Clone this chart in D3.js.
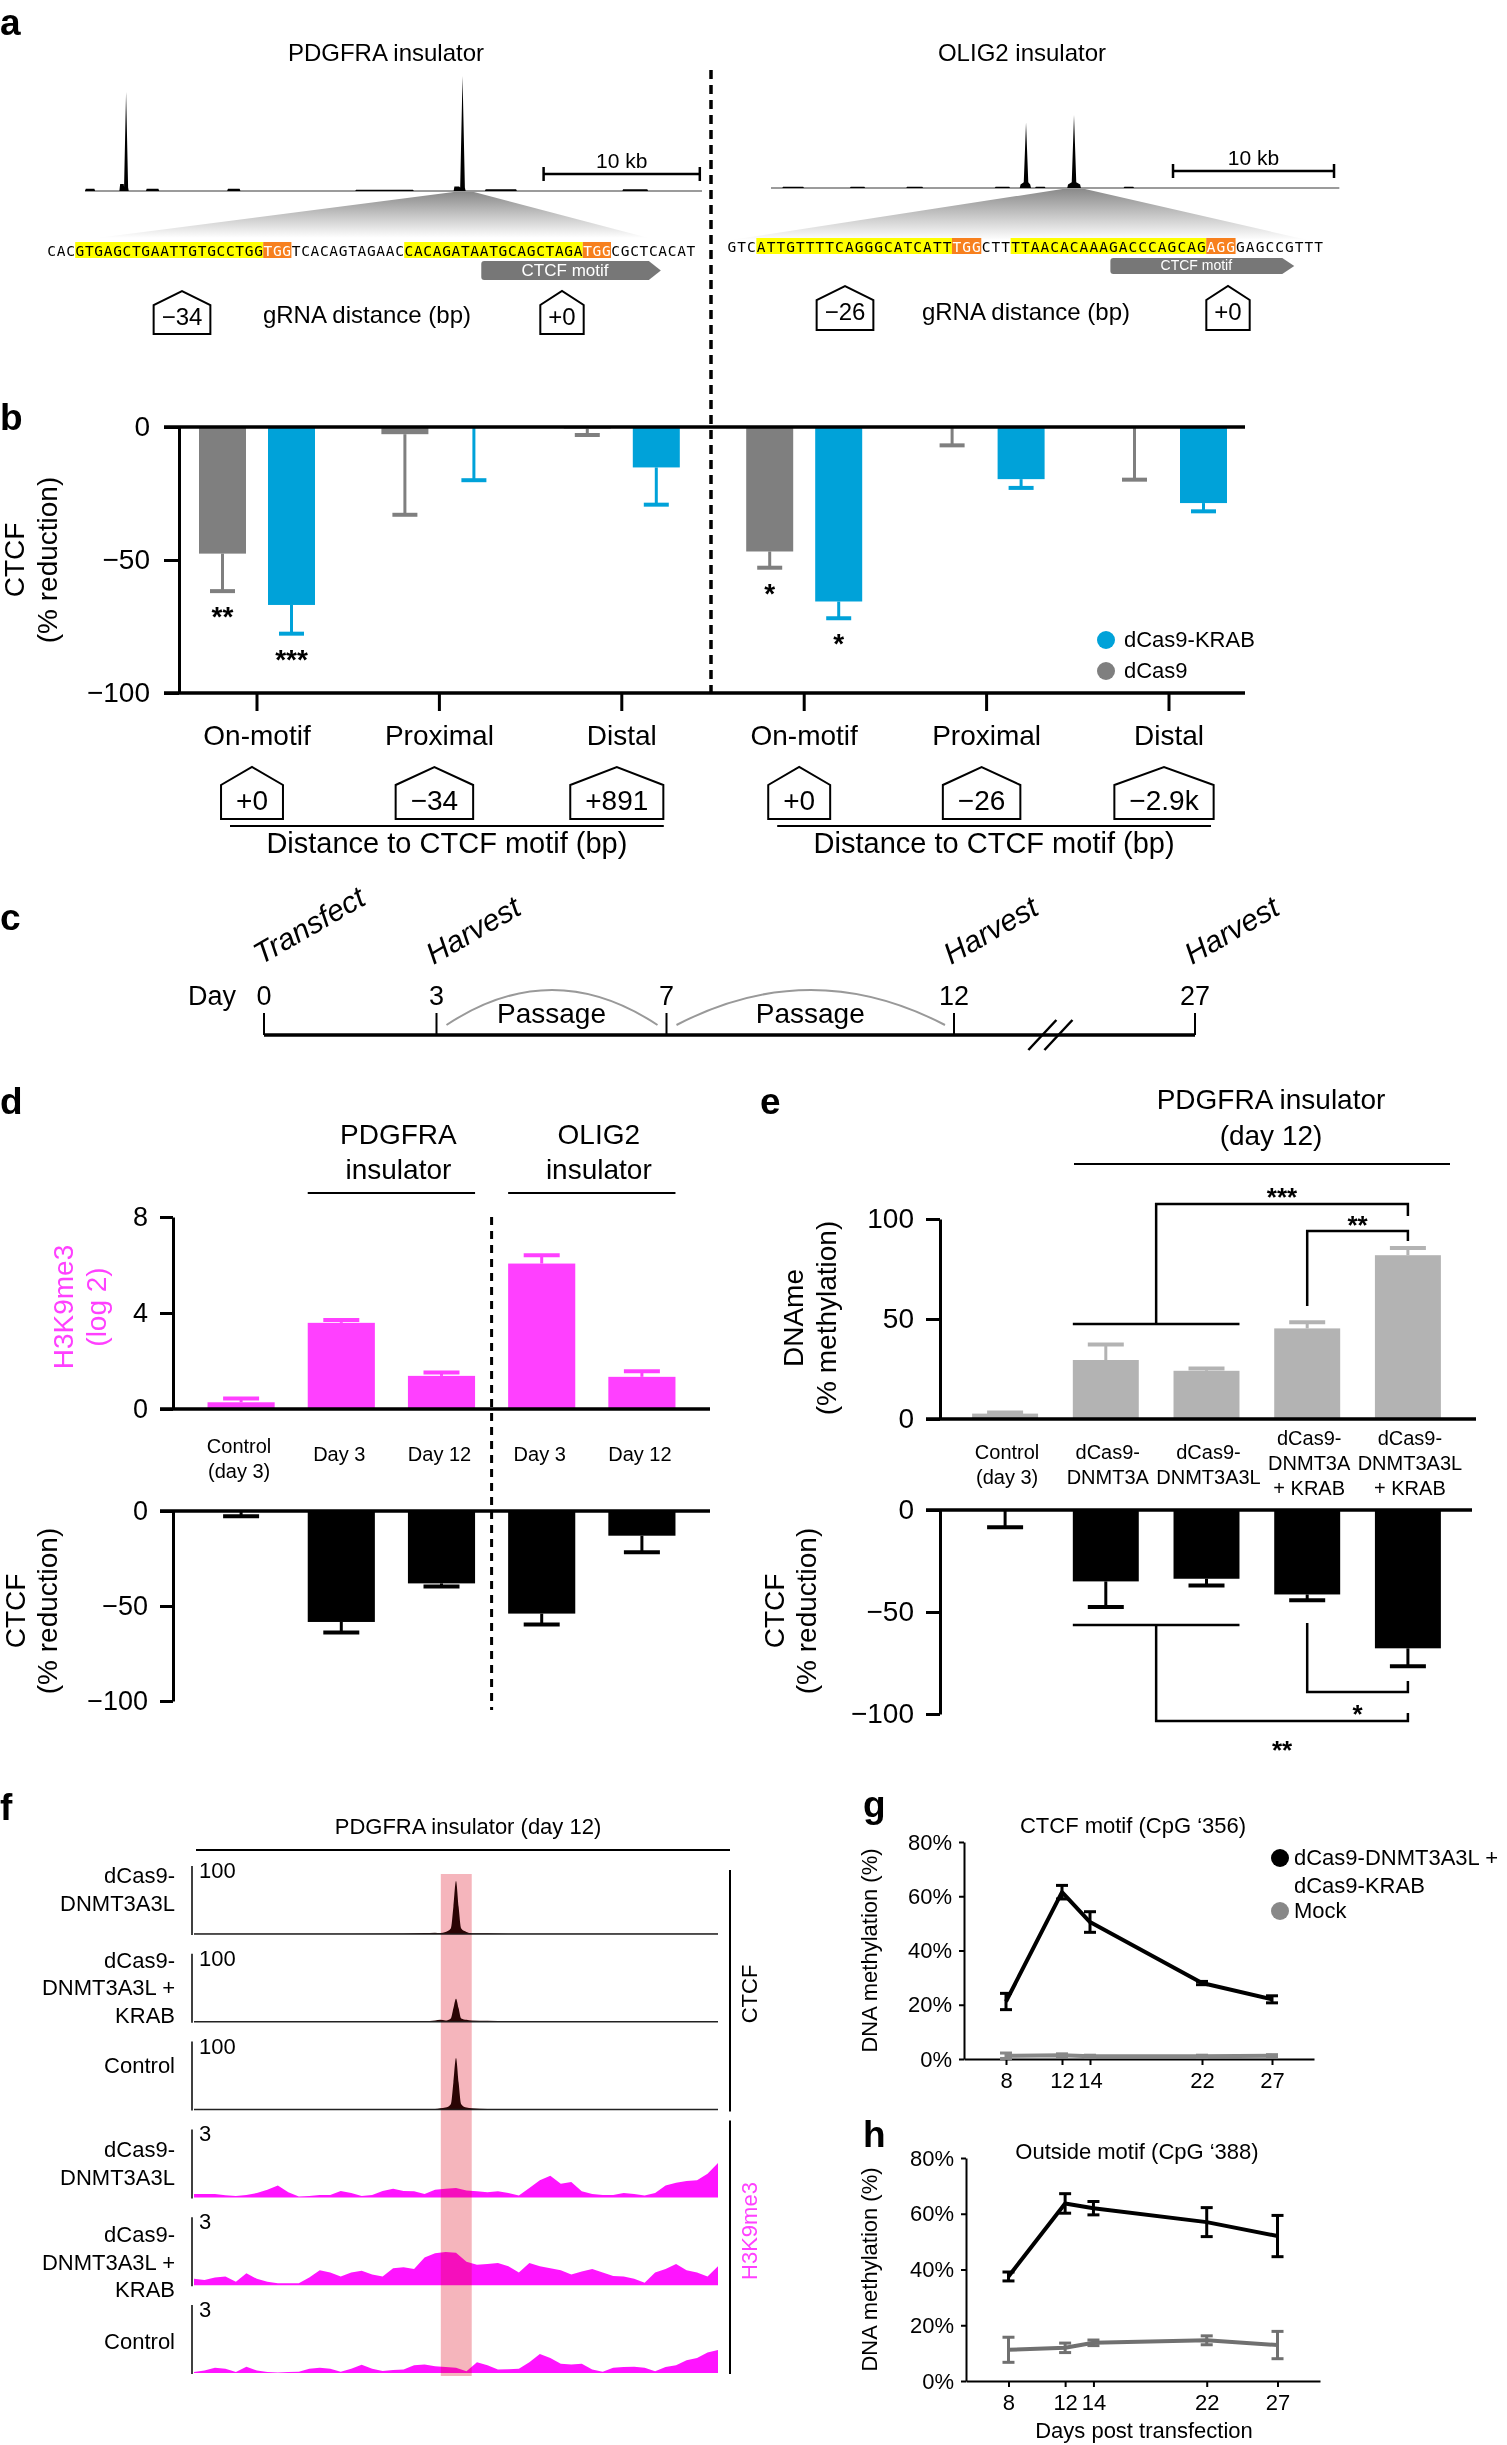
<!DOCTYPE html>
<html>
<head>
<meta charset="utf-8">
<script src="https://cdn.jsdelivr.net/npm/d3@7"></script>
<style>
body { margin: 0; background: #fff; }
svg { display: block; }
</style>
</head>
<body>
<div id="fig"></div>
<script>
var WIDTH = 1507;
var HEIGHT = 2445;
var FONT = "'Liberation Sans', Arial, Helvetica, sans-serif";
var BLUE = '#00a2d9', GRAY = '#7f7f7f', MAGENTA = '#ff40ff', LIGHT = '#b3b3b3';

// ---- a: CTCF tracks round each insulator (kb, signal) and the sequences ----
var pdgfraKb = [0, 0.05, 0.6, 0.65, 2.2, 2.25, 2.48, 2.5, 2.63, 2.76, 2.8, 3.9, 3.95, 4.7, 4.75, 9.1, 9.15, 9.9, 9.95,
	17.3, 17.35, 21, 21.05, 23.6, 23.65, 23.95, 24.02, 24.17, 24.32, 24.37, 25.6, 25.65, 27.6, 27.65, 34.4, 34.45, 36, 36.05, 39.5];
var pdgfraSig = [0, 2, 2, 0, 0, 6, 6, 3, 86, 3, 0, 0, 2, 2, 0, 0, 2, 2, 0,
	0, 1, 1, 0, 0, 4, 4, 3, 100, 3, 0, 0, 1.5, 1.5, 0, 0, 1.5, 1.5, 0, 0];
var oligKb = [0, 0.7, 0.75, 2.0, 2.05, 4.9, 4.95, 5.8, 5.85, 8.4, 8.45, 9.4, 9.45, 13.9, 13.95, 14.8, 14.85,
	15.45, 15.5, 15.7, 15.84, 15.98, 16.1, 16.15, 16.4, 16.45, 17.0, 17.05, 18.4, 18.45, 18.68, 18.82, 18.96, 19.2, 19.25,
	21.9, 21.95, 22.5, 22.55, 35.3];
var oligSig = [0, 0, 1, 1, 0, 0, 1, 1, 0, 0, 1, 1, 0, 0, 1, 1, 0,
	0, 3, 5, 57, 5, 3, 0, 0, 1, 1, 0, 0, 3, 5, 63.5, 5, 3, 0,
	0, 1, 1, 0, 0];
// 0 = plain, 1 = gRNA, 2 = PAM
var pdgfraSeq = [['CAC', 0], ['GTGAGCTGAATTGTGCCTGG', 1], ['TGG', 2], ['TCACAGTAGAAC', 0], ['CACAGATAATGCAGCTAGA', 1], ['TGG', 2], ['CGCTCACAT', 0]];
var oligSeq = [['GTC', 0], ['ATTGTTTTCAGGGCATCATT', 1], ['TGG', 2], ['CTT', 0], ['TTAACACAAAGACCCAGCAG', 1], ['AGG', 2], ['GAGCCGTTT', 0]];
var pdgfraGuides = ['\u221234', '+0'];
var oligGuides = ['\u221226', '+0'];

// ---- b: CTCF reduction per gRNA ----
var bLoci = ['PDGFRA', 'PDGFRA', 'PDGFRA', 'OLIG2', 'OLIG2', 'OLIG2'];
var bSites = ['On-motif', 'Proximal', 'Distal', 'On-motif', 'Proximal', 'Distal'];
var bDistance = ['+0', '\u221234', '+891', '+0', '\u221226', '\u22122.9k'];
var bDcas9 = [-47.6, -2.7, -0.6, -46.8, -0.4, -0.4];
var bDcas9Err = [14.1, 30.3, 2.4, 6.1, 6.5, 19.4];
var bKrab = [-66.9, -0.4, -15.2, -65.6, -19.6, -28.6];
var bKrabErr = [10.8, 19.6, 14.0, 6.3, 3.3, 3.1];
var bDcas9Stars = ['**', '', '', '*', '', ''];
var bKrabStars = ['***', '', '', '*', '', ''];

// ---- c: timeline ----
var cDays = [0, 3, 7, 12, 27];
var cEvents = ['Transfect', 'Harvest', '', 'Harvest', 'Harvest'];
var cPassages = [[3, 7], [7, 12]];

// ---- d ----
var dLabels = [['Control', '(day 3)'], ['Day 3'], ['Day 12'], ['Day 3'], ['Day 12']];
var dH3k9 = [0.28, 3.59, 1.38, 6.06, 1.34];
var dH3k9Err = [0.16, 0.12, 0.14, 0.35, 0.23];
var dCtcf = [-0.5, -58.4, -38.1, -54.0, -13.0];
var dCtcfErr = [2.2, 5.5, 1.7, 5.7, 8.7];

// ---- e ----
var eLabels = [['Control', '(day 3)'], ['dCas9-', 'DNMT3A'], ['dCas9-', 'DNMT3A3L'], ['dCas9-', 'DNMT3A', '+ KRAB'], ['dCas9-', 'DNMT3A3L', '+ KRAB']];
var eMeth = [2.7, 29.5, 24.1, 45.3, 81.9];
var eMethErr = [0.6, 7.8, 1.1, 3.1, 3.6];
var eCtcf = [-0.5, -35.0, -33.7, -41.4, -67.8];
var eCtcfErr = [8.0, 12.5, 3.3, 2.8, 8.8];

// ---- f: tracks ----
var ctcfPos = [0, 20, 40, 44, 46, 47, 48, 49, 49.5, 50, 50.5, 51, 52, 53, 56, 60, 80, 100];
var ctcfDnmt = [0.5, 0.5, 0.8, 1.5, 2, 1.5, 3, 8, 40, 78, 40, 8, 3, 1, 1, 0.5, 0.5, 0.5];
var ctcfDnmtKrab = [0.5, 0.5, 0.5, 1, 2, 3, 2, 5, 20, 34, 20, 5, 3, 2, 1.5, 1, 0.8, 0.5];
var ctcfControl = [0.5, 0.5, 0.5, 1, 1, 2, 3, 8, 40, 76, 40, 8, 3, 2, 1, 0.5, 0.5, 0.5];
var h3Bins = d3.range(0, 101, 2);
var h3Dnmt = [0.15, 0.15, 0.15, 0.1, 0.06, 0.11, 0.19, 0.34, 0.53, 0.23, 0.04, 0.06, 0.11, 0.11, 0.28, 0.19, 0.06,
	0.11, 0.28, 0.38, 0.28, 0.27, 0.15, 0.34, 0.38, 0.42, 0.3, 0.27, 0.23, 0.27, 0.19, 0.08, 0.42, 0.76, 0.95,
	0.6, 0.68, 0.27, 0.15, 0.11, 0.11, 0.19, 0.15, 0.08, 0.19, 0.53, 0.65, 0.72, 0.76, 1.04, 1.52];
var h3DnmtKrab = [0.28, 0.23, 0.34, 0.38, 0.15, 0.53, 0.28, 0.15, 0.09, 0.09, 0.09, 0.34, 0.66, 0.56, 0.38, 0.56, 0.64,
	0.47, 0.38, 0.75, 0.79, 0.71, 1.22, 1.41, 1.46, 1.43, 1.03, 0.9, 0.94, 0.98, 0.84, 0.56, 0.98, 0.84, 0.75,
	0.66, 0.47, 0.6, 0.71, 0.56, 0.41, 0.38, 0.28, 0.11, 0.56, 0.71, 0.94, 0.66, 0.56, 0.38, 0.84];
var h3Control = [0.04, 0.11, 0.23, 0.19, 0.04, 0.28, 0.11, 0.04, 0.02, 0.04, 0.06, 0.19, 0.23, 0.19, 0.06, 0.19, 0.36,
	0.19, 0.09, 0.13, 0.15, 0.34, 0.38, 0.3, 0.26, 0.23, 0.08, 0.47, 0.34, 0.15, 0.17, 0.19, 0.47, 0.84, 0.66,
	0.41, 0.38, 0.41, 0.15, 0.06, 0.23, 0.26, 0.28, 0.23, 0.08, 0.26, 0.34, 0.56, 0.66, 0.9, 1.01];

// ---- g, h: methylation time course ----
var gDays = [8, 12, 14, 22, 27];
var gKrab = [21.2, 61.5, 50.5, 28.0, 22.0];
var gKrabErr = [3.0, 2.5, 3.8, 0.6, 1.3];
var gMock = [1.2, 1.4, 1.0, 1.0, 1.2];
var gMockErr = [1.0, 0.5, 0.4, 0.4, 0.4];
var hKrab = [37.5, 63.7, 62.0, 57.0, 52.0];
var hKrabErr = [1.6, 3.5, 2.4, 5.2, 7.4];
var hMock = [11.2, 11.9, 13.7, 14.6, 12.9];
var hMockErr = [4.5, 1.7, 1.0, 1.6, 4.9];

var svg = d3.select('#fig').append('svg')
	.attr('width', WIDTH)
	.attr('height', HEIGHT)
	.attr('font-family', FONT);

function addText(g, x, y, s, size, o) {
	o = o || {};
	var t = g.append('text')
		.attr('x', x)
		.attr('y', y)
		.attr('font-size', size)
		.attr('text-anchor', o.anchor || 'middle')
		.attr('fill', o.fill || '#000')
		.text(s);
	if (o.weight) t.attr('font-weight', o.weight);
	if (o.style) t.attr('font-style', o.style);
	if (o.family) t.attr('font-family', o.family);
	if (o.rotate != null) t.attr('transform', 'rotate(' + o.rotate + ',' + x + ',' + y + ')');
	return t;
}

function addLine(g, x1, y1, x2, y2, sw, color, dash) {
	var l = g.append('line')
		.attr('x1', x1).attr('y1', y1)
		.attr('x2', x2).attr('y2', y2)
		.attr('stroke', color || '#000')
		.attr('stroke-width', sw);
	if (dash) l.attr('stroke-dasharray', dash);
	return l;
}

function errorBar(g, x, yFrom, yTo, capW, color, sw, capSw) {
	addLine(g, x, yFrom, x, yTo, sw, color);
	addLine(g, x - capW/2, yTo, x + capW/2, yTo, capSw || sw, color);
}

function panelLabel(letter, x, y) {
	addText(svg, x, y, letter, 37, {anchor: 'start', weight: 'bold'});
}

function leftAxis(g, scale, ticks, x, size, pad, fs, sw, fmt) {
	var ax = d3.axisLeft(scale).tickValues(ticks).tickSize(size).tickPadding(pad).tickSizeOuter(0);
	if (fmt) ax.tickFormat(fmt);
	var a = g.append('g')
		.attr('transform', 'translate(' + x + ',0)')
		.call(ax)
		.attr('font-family', FONT)
		.attr('font-size', fs);
	a.select('.domain').attr('stroke-width', sw);
	a.selectAll('.tick line').attr('stroke-width', sw);
	return a;
}

// pentagon tag with a number in it
function house(g, cx, s, apex, shoulder, bottom, textY, fs, pad) {
	var t = addText(g, cx, textY, s, fs);
	var w = t.node().getComputedTextLength() + 2*pad;
	g.insert('path', function() { return t.node(); })
		.attr('d', 'M' + (cx - w/2) + ',' + bottom + 'V' + shoulder + 'L' + cx + ',' + apex +
			'L' + (cx + w/2) + ',' + shoulder + 'V' + bottom + 'Z')
		.attr('fill', '#fff')
		.attr('stroke', '#000')
		.attr('stroke-width', 2);
}

/* ================= a ================= */
panelLabel('a', 0, 35);

var defs = svg.append('defs');
var grad = defs.append('linearGradient').attr('id', 'zoomGrad')
	.attr('x1', 0).attr('y1', 0).attr('x2', 0).attr('y2', 1);
grad.append('stop').attr('offset', 0).attr('stop-color', '#8a8a8a');
grad.append('stop').attr('offset', 1).attr('stop-color', '#ffffff');

var loci = [
	{title: 'PDGFRA insulator', titleX: 386, kb: pdgfraKb, sig: pdgfraSig, x0: 85, kbMax: 39.5, pxKb: 15.62, base: 191, sb: 29.36,
		focus: [23.6, 24.9], seq: pdgfraSeq, seqX0: 47, step: 9.4, seqBase: 256, gradIn: [50, 47], gradBottom: 238,
		motif: [46.2, 65.3], motifTop: 261, motifH: 19, motifFs: 17,
		guides: pdgfraGuides, guideX: [182, 562], houseY: [291, 305, 334, 325], legendX: 367, legendY: 323},
	{title: 'OLIG2 insulator', titleX: 1022, kb: oligKb, sig: oligSig, x0: 771, kbMax: 35.3, pxKb: 16.1, base: 188, sb: 24.97,
		focus: [18.1, 19.5], seq: oligSeq, seqX0: 727, step: 9.78, seqBase: 252, gradIn: [4, 16], gradBottom: 240,
		motif: [39.2, 58.0], motifTop: 258, motifH: 16, motifFs: 14,
		guides: oligGuides, guideX: [845, 1228], houseY: [286, 300, 330, 320], legendX: 1026, legendY: 320}
];

loci.forEach(function(L) {
	var g = svg.append('g');
	addText(g, L.titleX, 61, L.title, 24);

	var xT = d3.scaleLinear().domain([0, L.kbMax]).range([L.x0, L.x0 + L.kbMax*L.pxKb]);
	var yT = d3.scaleLinear().domain([0, 100]).range([L.base, L.base - 115]);
	var nChars = d3.sum(L.seq, function(s) { return s[0].length; });
	var seqEnd = L.seqX0 + nChars*L.step;

	// zoom wedge
	g.append('path')
		.attr('d', 'M' + xT(L.focus[0]) + ',' + (L.base + 1) + 'L' + xT(L.focus[1]) + ',' + (L.base + 1) +
			'L' + (seqEnd - L.gradIn[1]) + ',' + L.gradBottom + 'L' + (L.seqX0 + L.gradIn[0]) + ',' + L.gradBottom + 'Z')
		.attr('fill', 'url(#zoomGrad)');

	addLine(g, xT(0), L.base, xT(L.kbMax), L.base, 1.5, '#7a7a7a');
	var pts = L.kb.map(function(k, i) { return [k, L.sig[i]]; });
	g.append('path')
		.datum(pts)
		.attr('d', d3.area().x(function(d) { return xT(d[0]); }).y0(L.base).y1(function(d) { return yT(d[1]); }))
		.attr('fill', '#000');

	// 10 kb scale bar
	var sb0 = xT(L.sb), sb1 = xT(L.sb + 10), sby = L.base - 17;
	addLine(g, sb0, sby, sb1, sby, 2.5);
	addLine(g, sb0, sby - 7, sb0, sby + 7, 2.5);
	addLine(g, sb1, sby - 7, sb1, sby + 7, 2.5);
	addText(g, (sb0 + sb1)/2, sby - 6, '10 kb', 21);

	// sequence
	var idx = 0;
	L.seq.forEach(function(s) {
		var x = L.seqX0 + idx*L.step;
		if (s[1] > 0) {
			g.append('rect')
				.attr('x', x).attr('y', L.seqBase - 14)
				.attr('width', s[0].length*L.step).attr('height', 16)
				.attr('fill', s[1] === 1 ? '#ffff00' : '#f7801e');
		}
		s[0].split('').forEach(function(ch, j) {
			addText(g, x + (j + 0.5)*L.step, L.seqBase, ch, 14.5,
				{family: "'DejaVu Sans Mono', monospace", fill: s[1] === 2 ? '#ffffff' : '#000'});
		});
		idx += s[0].length;
	});

	// CTCF motif arrow
	var m0 = L.seqX0 + L.motif[0]*L.step, m1 = L.seqX0 + L.motif[1]*L.step;
	var mt = L.motifTop, mb = L.motifTop + L.motifH;
	g.append('path')
		.attr('d', 'M' + (m0 + 3) + ',' + mt + 'H' + (m1 - 12) + 'L' + m1 + ',' + ((mt + mb)/2) +
			'L' + (m1 - 12) + ',' + mb + 'H' + (m0 + 3) + 'Q' + m0 + ',' + mb + ' ' + m0 + ',' + (mb - 3) +
			'V' + (mt + 3) + 'Q' + m0 + ',' + mt + ' ' + (m0 + 3) + ',' + mt + 'Z')
		.attr('fill', '#777');
	addText(g, (m0 + m1 - 12)/2, mb - 4, 'CTCF motif', L.motifFs, {fill: '#fff'});

	// gRNA distance tags
	L.guides.forEach(function(s, i) {
		house(g, L.guideX[i], s, L.houseY[0], L.houseY[1], L.houseY[2], L.houseY[3], 24, 8);
	});
	addText(g, L.legendX, L.legendY, 'gRNA distance (bp)', 24);
});

addLine(svg, 711, 70, 711, 693, 3.5, '#000', '9,6');

/* ================= b ================= */
panelLabel('b', 0, 430);
var gb = svg.append('g');
var yB = d3.scaleLinear().domain([-100, 0]).range([693, 427]);
var xB = d3.scalePoint().domain(d3.range(bSites.length)).range([257, 1169]);
var xSeries = d3.scalePoint().domain(['dCas9', 'dCas9-KRAB']).range([-34.5, 34.5]);
var bSeries = [
	{name: 'dCas9', vals: bDcas9, err: bDcas9Err, stars: bDcas9Stars, color: GRAY},
	{name: 'dCas9-KRAB', vals: bKrab, err: bKrabErr, stars: bKrabStars, color: BLUE}
];
bSeries.forEach(function(s) {
	s.vals.forEach(function(v, i) {
		var cx = xB(i) + xSeries(s.name);
		gb.append('rect')
			.attr('x', cx - 23.5).attr('y', yB(0))
			.attr('width', 47).attr('height', yB(v) - yB(0))
			.attr('fill', s.color);
		errorBar(gb, cx, yB(v), yB(v - s.err[i]), 25, s.color, 3, 4);
		if (s.stars[i]) addText(gb, cx, yB(v - s.err[i]) + 35, s.stars[i], 28, {weight: 'bold'});
	});
});
leftAxis(gb, yB, [0, -50, -100], 179, 15, 14, 28, 3);
addLine(gb, 164, yB(0), 1245, yB(0), 3.5);
addLine(gb, 164, yB(-100), 1245, yB(-100), 3.5);
bSites.forEach(function(s, i) {
	addLine(gb, xB(i), yB(-100), xB(i), yB(-100) + 18, 3);
	addText(gb, xB(i), 745, s, 28);
	house(gb, xB(i) - 5, bDistance[i], 767, 785, 819, 810, 28, 15);
});
['PDGFRA', 'OLIG2'].forEach(function(locus) {
	var ids = d3.range(bLoci.length).filter(function(i) { return bLoci[i] === locus; });
	var l0 = xB(ids[0]) - 27, l1 = xB(ids[ids.length - 1]) + 42;
	addLine(gb, l0, 826, l1, 826, 2);
	addText(gb, (l0 + l1)/2, 853, 'Distance to CTCF motif (bp)', 29);
});
addText(gb, 24, 560, 'CTCF', 28, {rotate: -90});
addText(gb, 57, 560, '(% reduction)', 28, {rotate: -90});
[['dCas9-KRAB', BLUE], ['dCas9', GRAY]].forEach(function(d, i) {
	gb.append('circle').attr('cx', 1106).attr('cy', 640 + i*31).attr('r', 9).attr('fill', d[1]);
	addText(gb, 1124, 647 + i*31, d[0], 22, {anchor: 'start'});
});

/* ================= c ================= */
panelLabel('c', 0, 930);
var gc = svg.append('g');
var xC = d3.scaleLinear().domain([0, 12, 27]).range([264, 954, 1195]);
var lineY = 1035;
cPassages.forEach(function(p) {
	var a = xC(p[0]) + 10, b = xC(p[1]) - 9;
	gc.append('path')
		.attr('d', 'M' + a + ',' + (lineY - 10) + 'Q' + ((a + b)/2) + ',' + (lineY - 80) + ' ' + b + ',' + (lineY - 10))
		.attr('fill', 'none').attr('stroke', '#999').attr('stroke-width', 2);
	addText(gc, xC((p[0] + p[1])/2), lineY - 12, 'Passage', 28);
});
addLine(gc, xC(0), lineY, xC(27), lineY, 3.5);
cDays.forEach(function(d, i) {
	addLine(gc, xC(d), lineY, xC(d), lineY - 22, 2);
	addText(gc, xC(d), 1005, d, 27);
	if (cEvents[i]) addText(gc, xC(d) - 3, 965, cEvents[i], 30, {anchor: 'start', style: 'italic', rotate: -30});
});
addText(gc, 236, 1005, 'Day', 27, {anchor: 'end'});
[17.5, 18.5].forEach(function(d) {
	addLine(gc, xC(d) - 14, lineY + 15, xC(d) + 14, lineY - 15, 2.5);
});

/* ================= d ================= */
panelLabel('d', 0, 1114);
var gd = svg.append('g');
var xD = d3.scaleBand().domain(d3.range(dLabels.length)).range([191, 692]).paddingInner(0.33).paddingOuter(0.165);
var bwD = xD.bandwidth();
var yDtop = d3.scaleLinear().domain([0, 8]).range([1409, 1217]);
var yDbot = d3.scaleLinear().domain([-100, 0]).range([1701, 1511]);
dH3k9.forEach(function(v, i) {
	gd.append('rect').attr('x', xD(i)).attr('y', yDtop(v))
		.attr('width', bwD).attr('height', yDtop(0) - yDtop(v)).attr('fill', MAGENTA);
	errorBar(gd, xD(i) + bwD/2, yDtop(v), yDtop(v + dH3k9Err[i]), 36, MAGENTA, 3, 4);
});
dCtcf.forEach(function(v, i) {
	gd.append('rect').attr('x', xD(i)).attr('y', yDbot(0))
		.attr('width', bwD).attr('height', yDbot(v) - yDbot(0)).attr('fill', '#000');
	errorBar(gd, xD(i) + bwD/2, yDbot(v), yDbot(v - dCtcfErr[i]), 36, '#000', 3, 4);
});
leftAxis(gd, yDtop, [0, 4, 8], 173, 13, 12, 27, 3);
leftAxis(gd, yDbot, [0, -50, -100], 173, 13, 12, 27, 3);
addLine(gd, 160, yDtop(0), 710, yDtop(0), 3.5);
addLine(gd, 160, yDbot(0), 710, yDbot(0), 3.5);
dLabels.forEach(function(lines, i) {
	var y0 = lines.length === 1 ? 1461 : 1453;
	lines.forEach(function(s, j) { addText(gd, xD(i) + bwD/2 - 2, y0 + j*25, s, 20); });
});
[[['PDGFRA', 'insulator'], 1, 2], [['OLIG2', 'insulator'], 3, 4]].forEach(function(h) {
	var l0 = xD(h[1]), l1 = xD(h[2]) + bwD;
	addLine(gd, l0, 1193, l1, 1193, 2);
	addText(gd, (l0 + l1)/2 + 7, 1144, h[0][0], 28);
	addText(gd, (l0 + l1)/2 + 7, 1179, h[0][1], 28);
});
var dDiv = (xD(2) + bwD + xD(3))/2;
addLine(gd, dDiv, 1217, dDiv, 1710, 3, '#000', '8,6');
addText(gd, 73, 1307, 'H3K9me3', 28, {rotate: -90, fill: MAGENTA});
addText(gd, 106, 1307, '(log 2)', 28, {rotate: -90, fill: MAGENTA});
addText(gd, 25, 1611, 'CTCF', 28, {rotate: -90});
addText(gd, 57, 1611, '(% reduction)', 28, {rotate: -90});

/* ================= e ================= */
panelLabel('e', 760, 1114);
var ge = svg.append('g');
var xE = d3.scaleBand().domain(d3.range(eLabels.length)).range([955, 1458]).paddingInner(0.345).paddingOuter(0.17);
var bwE = xE.bandwidth();
var cxE = function(i) { return xE(i) + bwE/2; };
var yEtop = d3.scaleLinear().domain([0, 100]).range([1419, 1219]);
var yEbot = d3.scaleLinear().domain([-100, 0]).range([1714, 1510]);
eMeth.forEach(function(v, i) {
	ge.append('rect').attr('x', xE(i)).attr('y', yEtop(v))
		.attr('width', bwE).attr('height', yEtop(0) - yEtop(v)).attr('fill', LIGHT);
	errorBar(ge, cxE(i), yEtop(v), yEtop(v + eMethErr[i]), 36, LIGHT, 3, 4);
});
eCtcf.forEach(function(v, i) {
	ge.append('rect').attr('x', xE(i)).attr('y', yEbot(0))
		.attr('width', bwE).attr('height', yEbot(v) - yEbot(0)).attr('fill', '#000');
	errorBar(ge, cxE(i), yEbot(v), yEbot(v - eCtcfErr[i]), 36, '#000', 3, 4);
});
leftAxis(ge, yEtop, [0, 50, 100], 940, 14, 12, 28, 3);
leftAxis(ge, yEbot, [0, -50, -100], 940, 14, 12, 28, 3);
addLine(ge, 926, yEtop(0), 1476, yEtop(0), 3.5);
addLine(ge, 926, yEbot(0), 1472, yEbot(0), 3.5);
eLabels.forEach(function(lines, i) {
	var y0 = lines.length === 3 ? 1445 : 1459;
	lines.forEach(function(s, j) { addText(ge, cxE(i) + 2, y0 + j*25, s, 20); });
});
// comparison brackets: group of bars 1-2 against bar 4, bar 3 against bar 4
function bracket(y, groupVal, stemEnd, tipEnd, from, label, labelDy) {
	var x0 = from.length > 1 ? (xE(from[0]) + xE(from[1]) + bwE)/2 : cxE(from[0]);
	if (from.length > 1) addLine(ge, xE(from[0]), y(groupVal), xE(from[1]) + bwE, y(groupVal), 2.5);
	ge.append('path')
		.attr('d', 'M' + x0 + ',' + y(groupVal) + 'V' + y(stemEnd) + 'H' + cxE(4) + 'V' + y(tipEnd))
		.attr('fill', 'none').attr('stroke', '#000').attr('stroke-width', 2.5);
	addText(ge, (x0 + cxE(4))/2, y(stemEnd) + labelDy, label, 26, {weight: 'bold'});
}
bracket(yEtop, 47.5, 107.5, 101.5, [1, 2], '***', 2);
bracket(yEtop, 56.5, 94, 89, [3], '**', 3);
bracket(yEbot, -56.4, -103.4, -99.5, [1, 2], '**', 38);
bracket(yEbot, -55.4, -89.2, -83.8, [3], '*', 31);
var eh0 = 1074, eh1 = 1450;
addLine(ge, eh0, 1164, eh1, 1164, 2);
addText(ge, (eh0 + eh1)/2 + 9, 1109, 'PDGFRA insulator', 28);
addText(ge, (eh0 + eh1)/2 + 9, 1145, '(day 12)', 28);
addText(ge, 803, 1318, 'DNAme', 28, {rotate: -90});
addText(ge, 836, 1318, '(% methylation)', 28, {rotate: -90});
addText(ge, 784, 1611, 'CTCF', 28, {rotate: -90});
addText(ge, 816, 1611, '(% reduction)', 28, {rotate: -90});

/* ================= f ================= */
panelLabel('f', 0, 1820);
var gf = svg.append('g');
var xF = d3.scaleLinear().domain([0, 100]).range([194, 718]);
var trackBase = d3.scaleLinear().domain([0, 5]).range([1934, 2373]);
var tracks = [
	{label: ['dCas9-', 'DNMT3A3L'], mark: 'CTCF', pos: ctcfPos, vals: ctcfDnmt},
	{label: ['dCas9-', 'DNMT3A3L +', 'KRAB'], mark: 'CTCF', pos: ctcfPos, vals: ctcfDnmtKrab},
	{label: ['Control'], mark: 'CTCF', pos: ctcfPos, vals: ctcfControl},
	{label: ['dCas9-', 'DNMT3A3L'], mark: 'H3K9me3', pos: h3Bins, vals: h3Dnmt},
	{label: ['dCas9-', 'DNMT3A3L +', 'KRAB'], mark: 'H3K9me3', pos: h3Bins, vals: h3DnmtKrab},
	{label: ['Control'], mark: 'H3K9me3', pos: h3Bins, vals: h3Control}
];
var labelOffset = {CTCF: {1: -37, 2: -51, 3: -54}, H3K9me3: {1: -24.5, 2: -40, 3: -43}};
tracks.forEach(function(t, i) {
	var base = trackBase(i);
	var isCtcf = t.mark === 'CTCF';
	var yF = d3.scaleLinear().domain([0, isCtcf ? 100 : 3]).range([base, base - 68]);
	var pts = t.pos.map(function(p, j) { return [p, t.vals[j]]; });
	gf.append('path')
		.datum(pts)
		.attr('d', d3.area().curve(isCtcf ? d3.curveMonotoneX : d3.curveLinear)
			.x(function(d) { return xF(d[0]); }).y0(base).y1(function(d) { return yF(d[1]); }))
		.attr('fill', isCtcf ? '#2b0505' : '#ff14ff');
	if (isCtcf) addLine(gf, xF(0), base, xF(100), base, 1.5, '#222');
	addLine(gf, 192, base + 1, 192, base - 68, 1.5);
	addText(gf, 199, base - 56, isCtcf ? '100' : '3', 22, {anchor: 'start'});
	var y0 = base + labelOffset[t.mark][t.label.length];
	t.label.forEach(function(s, j) { addText(gf, 175, y0 + j*27.5, s, 22, {anchor: 'end'}); });
});
gf.append('rect')
	.attr('x', xF(47.1)).attr('y', 1874)
	.attr('width', xF(53) - xF(47.1)).attr('height', 502)
	.attr('fill', '#f5b5bc')
	.style('mix-blend-mode', 'multiply');
addLine(gf, 196, 1850, 730, 1850, 2);
addText(gf, 468, 1834, 'PDGFRA insulator (day 12)', 22);
addLine(gf, 730, trackBase(0) - 64, 730, trackBase(2) + 2, 2);
addLine(gf, 730, trackBase(3) - 77, 730, trackBase(5) + 1, 2);
addText(gf, 757, 1994, 'CTCF', 22, {rotate: -90});
addText(gf, 757, 2231, 'H3K9me3', 22, {rotate: -90, fill: MAGENTA});

/* ================= g, h ================= */
function timecourse(o) {
	var g = svg.append('g');
	var x = d3.scaleLinear().domain([5, 30]).range(o.xr);
	var y = d3.scaleLinear().domain([0, 80]).range(o.yr);
	var ax = d3.axisBottom(x).tickValues(gDays).tickSize(6).tickPadding(7).tickSizeOuter(0);
	var a = g.append('g')
		.attr('transform', 'translate(0,' + o.yr[0] + ')')
		.call(ax)
		.attr('font-family', FONT)
		.attr('font-size', 22);
	a.select('.domain').attr('stroke-width', 2);
	a.selectAll('.tick line').attr('stroke-width', 2);
	leftAxis(g, y, [0, 20, 40, 60, 80], o.xr[0], 5, 7, 22, 2, function(d) { return d + '%'; });

	o.series.forEach(function(s) {
		var pts = gDays.map(function(d, i) { return {day: d, v: s.vals[i], e: s.err[i]}; });
		g.append('path')
			.datum(pts)
			.attr('d', d3.line().x(function(d) { return x(d.day); }).y(function(d) { return y(d.v); }))
			.attr('fill', 'none').attr('stroke', s.color).attr('stroke-width', 4).attr('stroke-linejoin', 'round');
		pts.forEach(function(d) {
			addLine(g, x(d.day), y(d.v - d.e), x(d.day), y(d.v + d.e), 3, s.color);
			addLine(g, x(d.day) - 6, y(d.v - d.e), x(d.day) + 6, y(d.v - d.e), 3, s.color);
			addLine(g, x(d.day) - 6, y(d.v + d.e), x(d.day) + 6, y(d.v + d.e), 3, s.color);
		});
	});
	addText(g, o.titleX, o.titleY, o.title, 22);
	addText(g, 877, (o.yr[0] + o.yr[1])/2, 'DNA methylation (%)', 22, {rotate: -90});
	return g;
}

panelLabel('g', 863, 1817);
var gg = timecourse({xr: [964, 1314], yr: [2059, 1842], title: 'CTCF motif (CpG \u2018356)', titleX: 1133, titleY: 1833,
	series: [{vals: gMock, err: gMockErr, color: '#888'}, {vals: gKrab, err: gKrabErr, color: '#000'}]});
[['dCas9-DNMT3A3L +', '#000'], ['dCas9-KRAB', null], ['Mock', '#888']].forEach(function(d, i) {
	var yy = [1865, 1893, 1918][i];
	if (d[1]) gg.append('circle').attr('cx', 1280).attr('cy', yy - 7).attr('r', 9).attr('fill', d[1]);
	addText(gg, 1294, yy, d[0], 22, {anchor: 'start'});
});

panelLabel('h', 863, 2147);
var gh = timecourse({xr: [966, 1320], yr: [2381, 2158], title: 'Outside motif (CpG \u2018388)', titleX: 1137, titleY: 2159,
	series: [{vals: hMock, err: hMockErr, color: '#707070'}, {vals: hKrab, err: hKrabErr, color: '#000'}]});
addText(gh, 1144, 2438, 'Days post transfection', 22);
</script>
</body>
</html>
